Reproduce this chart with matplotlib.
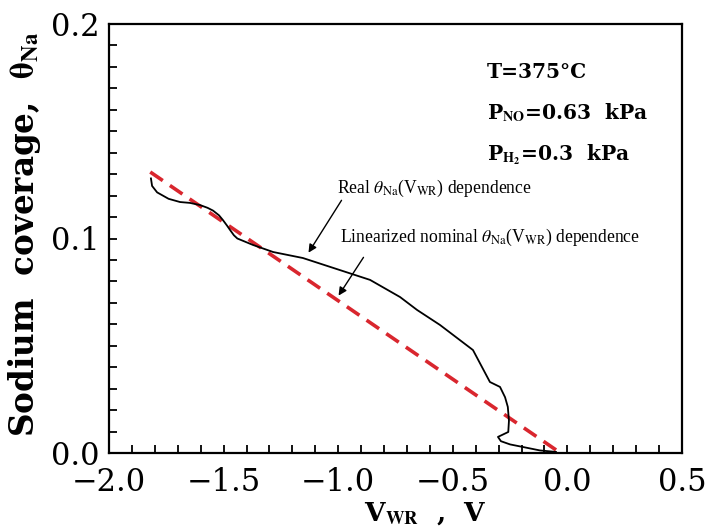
import matplotlib
matplotlib.use("Agg")
import matplotlib.pyplot as plt
from matplotlib.ticker import MultipleLocator

# Data
real_v = [-1.817, -1.812, -1.790, -1.740, -1.690, -1.647, -1.603, -1.570, -1.546,
          -1.520, -1.503, -1.485, -1.472, -1.455, -1.440, -1.372, -1.284, -1.154,
          -0.861, -0.730, -0.656, -0.556, -0.412, -0.338, -0.294, -0.272, -0.260,
          -0.255, -0.258, -0.303, -0.290, -0.250, -0.194, -0.120, -0.050]
real_theta = [0.128, 0.1245, 0.1215, 0.1185, 0.1170, 0.1166, 0.1156, 0.1143, 0.1130,
              0.1108, 0.1086, 0.1060, 0.1040, 0.1015, 0.1000, 0.0970, 0.0937, 0.0909,
              0.0807, 0.0727, 0.0667, 0.0597, 0.0480, 0.0331, 0.0308, 0.0260, 0.0215,
              0.0150, 0.0098, 0.0075, 0.0055, 0.0040, 0.0028, 0.0012, 0.0005]
lin_v = [-1.82, -0.03]
lin_theta = [0.131, 0.0]

xticks = [-2.0, -1.5, -1.0, -0.5, 0.0, 0.5]
yticks = [0.0, 0.1, 0.2]

plt.rcParams['mathtext.fontset'] = 'stix'
plt.rcParams['font.family'] = 'serif'
plt.rcParams['font.serif'] = ['DejaVu Serif', 'Liberation Serif']

fig = plt.figure(figsize=(7.05, 5.29), dpi=100)
ax = fig.add_axes([109/705, 1-453/529, 573/705, 429/529])

ax.plot(lin_v, lin_theta, color='#d9262e', lw=2.6, dashes=(4.2, 2.4), zorder=2)
ax.plot(real_v, real_theta, color='black', lw=1.3, zorder=3)

ax.set_xlim(-2.0, 0.5)
ax.set_ylim(0.0, 0.2)
ax.set_xticks(xticks)
ax.set_yticks(yticks)
ax.set_xticklabels(['\u22122.0', '\u22121.5', '\u22121.0', '\u22120.5', '0.0', '0.5'])
ax.set_yticklabels(['0.0', '0.1', '0.2'])
ax.xaxis.set_minor_locator(MultipleLocator(0.1))
ax.yaxis.set_minor_locator(MultipleLocator(0.01))
ax.tick_params(which='both', direction='in', top=False, right=False, width=1.3)
ax.tick_params(which='major', length=6, labelsize=22)
ax.tick_params(axis='x', which='major', pad=10)
ax.tick_params(axis='y', which='major', pad=7)
ax.tick_params(which='minor', length=6)
for s in ax.spines.values():
    s.set_linewidth(1.6)

ax.set_xlabel(r'V$_{\mathbf{WR}}$  ,  V', fontsize=19, fontweight='bold', va='center')
ax.xaxis.set_label_coords(0.553, -0.142)
ax.set_ylabel(r'Sodium  coverage,  $\mathbf{\theta}_{\mathbf{Na}}$', fontsize=23.5,
              fontweight='bold', va='center')
ax.yaxis.set_label_coords(-0.148, 0.51)

pk = dict(fontsize=14.5, fontweight='bold', va='center', ha='left')
ax.text(-0.351, 0.1776, 'T=375\u00b0C', **pk)
ax.text(-0.351, 0.1585, r'P$_{\mathbf{NO}}$=0.63  kPa', **pk)
ax.text(-0.351, 0.1389, r'P$_{\mathbf{H_2}}$=0.3  kPa', **pk)

tk = dict(fontsize=12.7, family='Liberation Serif', va='center', ha='left')
ax.text(-1.005, 0.1235, r'Real $\theta_{\mathrm{Na}}$(V$_{\mathrm{WR}}$) dependence', **tk)
ax.text(-0.992, 0.1007, r'Linearized nominal $\theta_{\mathrm{Na}}$(V$_{\mathrm{WR}}$) dependence', **tk)

ax.annotate('', xy=(-1.136, 0.0923), xytext=(-0.979, 0.1189),
            arrowprops=dict(arrowstyle='-|>', color='black', lw=1.0, mutation_scale=12))
ax.annotate('', xy=(-1.005, 0.0723), xytext=(-0.883, 0.0923),
            arrowprops=dict(arrowstyle='-|>', color='black', lw=1.0, mutation_scale=12))

fig.savefig('out.png', dpi=100)
